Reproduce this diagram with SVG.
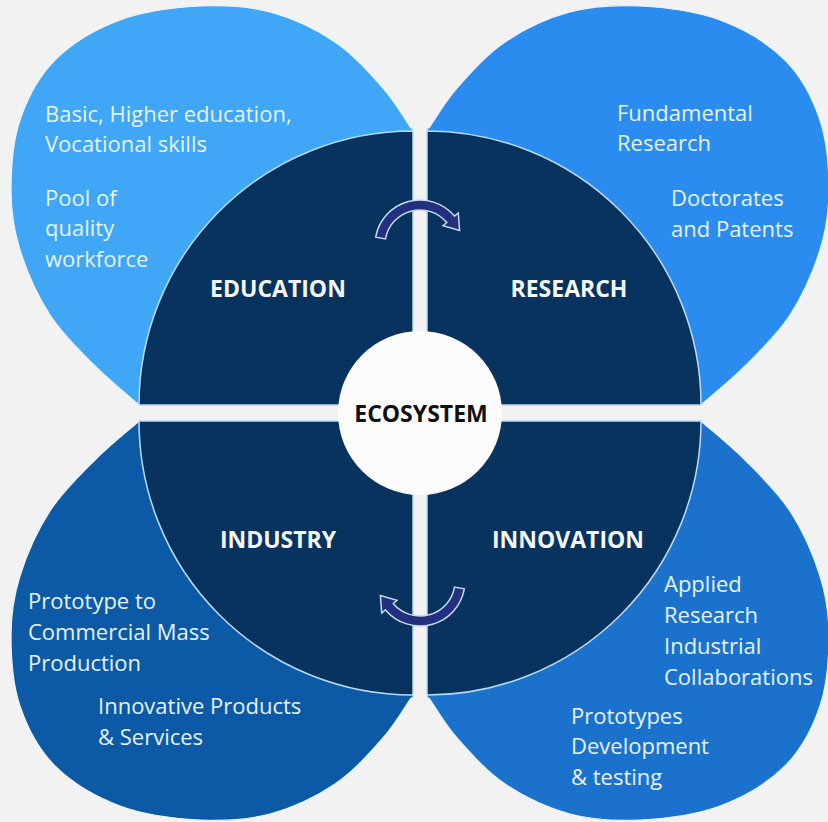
<svg xmlns="http://www.w3.org/2000/svg" xmlns:xlink="http://www.w3.org/1999/xlink" width="828" height="822" viewBox="0 0 828 822">
<style>
.pt{font-family:"Open Sans","Liberation Sans",sans-serif;font-size:22px;fill:#e6f2fc}
.ql{font-family:"Open Sans","Liberation Sans",sans-serif;font-size:23px;font-weight:bold;fill:#f4f6f8;text-anchor:middle}
.eco{font-family:"Open Sans","Liberation Sans",sans-serif;font-size:23px;font-weight:bold;fill:#111111;text-anchor:middle}
.quad{fill:#07335e;stroke:#b9daf5;stroke-width:1.5}
.petal{stroke:#eaf4fd;stroke-width:1.2}
.arrow{fill:#22307f;stroke:#c9d8ef;stroke-width:1.5}
</style>
<defs>
<path id="petal" d="M 413,405 L 138,404 C 130.8,397.7 109.7,380.8 95,366 C 80.3,351.2 62.5,334.3 50,315 C 37.5,295.7 26.5,270.8 20,250 C 13.5,229.2 11,211.7 11,190 C 11,168.3 12.7,141.7 20,120 C 27.3,98.3 38.3,76.7 55,60 C 71.7,43.3 95.8,29 120,20 C 144.2,11 175,7.3 200,6 C 225,4.7 247.5,6 270,12 C 292.5,18 316.2,29.3 335,42 C 353.8,54.7 370.3,73.7 383,88 C 395.7,102.3 406.3,121.3 411,128 L 413,128 Z"/>
<path id="arr" d="M 375.7,237.2 A 45 45 0 0 1 454.5,216.1 L 458.3,212.9 L 459.6,230.5 L 443.0,225.7 L 446.8,222.5 A 35 35 0 0 0 385.5,238.9 Z"/>
</defs>
<rect width="828" height="822" fill="#f2f2f2"/>

<g id="education">
<use xlink:href="#petal" class="petal" fill="#3fa7f5"/>
<path class="quad" d="M 413,405 L 139,405 A 274 274 0 0 1 413,131 Z"/>
<text class="ql" x="278" y="297">EDUCATION</text>
<text class="pt" x="45" y="122">Basic, Higher education,</text>
<text class="pt" x="45" y="152">Vocational skills</text>
<text class="pt" x="45" y="206">Pool of</text>
<text class="pt" x="45" y="236">quality</text>
<text class="pt" x="45" y="267">workforce</text>
</g>

<g id="research">
<use xlink:href="#petal" class="petal" fill="#2b8cf0" transform="matrix(-1 0 0 1 840 0)"/>
<path class="quad" d="M 427,405 L 427,131 A 274 274 0 0 1 701,405 Z"/>
<text class="ql" x="569" y="297">RESEARCH</text>
<text class="pt" x="617" y="121">Fundamental</text>
<text class="pt" x="617" y="151">Research</text>
<text class="pt" x="671" y="206">Doctorates</text>
<text class="pt" x="671" y="237">and Patents</text>
</g>

<g id="industry">
<use xlink:href="#petal" class="petal" fill="#0c5aa6" transform="matrix(1 0 0 -1 0 826)"/>
<path class="quad" d="M 413,421 L 413,695 A 274 274 0 0 1 139,421 Z"/>
<text class="ql" x="278" y="548">INDUSTRY</text>
<text class="pt" x="28" y="609">Prototype to</text>
<text class="pt" x="28" y="640">Commercial Mass</text>
<text class="pt" x="28" y="671">Production</text>
<text class="pt" x="98" y="714">Innovative Products</text>
<text class="pt" x="98" y="745">&amp; Services</text>
</g>

<g id="innovation">
<use xlink:href="#petal" class="petal" fill="#1b72cd" transform="matrix(-1 0 0 -1 840 826)"/>
<path class="quad" d="M 427,421 L 701,421 A 274 274 0 0 1 427,695 Z"/>
<text class="ql" x="568" y="548">INNOVATION</text>
<text class="pt" x="664" y="592">Applied</text>
<text class="pt" x="664" y="623">Research</text>
<text class="pt" x="664" y="654">Industrial</text>
<text class="pt" x="664" y="685">Collaborations</text>
<text class="pt" x="571" y="724">Prototypes</text>
<text class="pt" x="571" y="754">Development</text>
<text class="pt" x="571" y="785">&amp; testing</text>
</g>

<g id="ecosystem">
<circle cx="420" cy="413" r="82" fill="#fcfcfc"/>
<text class="eco" x="421" y="422">ECOSYSTEM</text>
</g>

<g id="connectors">
<use xlink:href="#arr" class="arrow"/>
<use xlink:href="#arr" class="arrow" transform="rotate(180 420 413)"/>
</g>
</svg>
